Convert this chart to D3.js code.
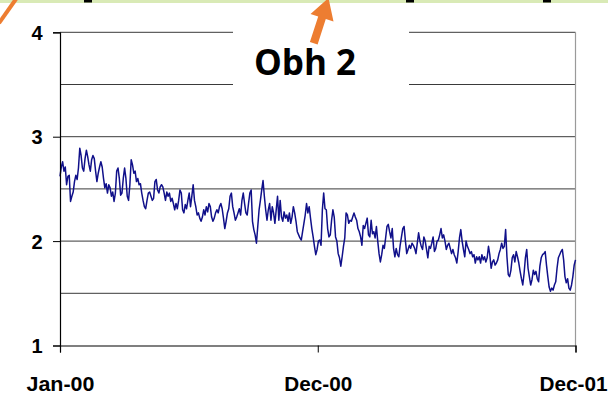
<!DOCTYPE html>
<html>
<head>
<meta charset="utf-8">
<script src="https://cdn.jsdelivr.net/npm/d3@7"></script>
<style>
  html, body { margin: 0; padding: 0; background: #fff; overflow: hidden; }
  svg { display: block; }
</style>
</head>
<body>
<div id="chart"></div>
<script>
// ---------------- data ----------------
const startDate = new Date(2000, 0, 1);
const endDate = new Date(2001, 11, 1);
const tickDates = [new Date(2000, 0, 1), new Date(2000, 11, 16), new Date(2001, 11, 1)];
const tickLabels = ["Jan-00", "Dec-00", "Dec-01"];
const yTicks = [1, 2, 3, 4];
const yGrid = [1.5, 2, 2.5, 3, 3.5, 4];
const yDomain = [1, 4];
const calloutText = "Obh 2";

// series values (evenly spaced over the period)
const seg1 = [2.62,2.71,2.76,2.67,2.71,2.54,2.62,2.63,2.38,2.43,2.47,2.57,2.63,2.59,2.70,2.89,2.82,2.70,2.67,2.79,
  2.87,2.81,2.73,2.67,2.78,2.82,2.79,2.67,2.57,2.65,2.71,2.76,2.71,2.60,2.51,2.55,2.46,2.54,2.51,2.43,
  2.47,2.38,2.46,2.67,2.70,2.60,2.44,2.46,2.60,2.70,2.60,2.43,2.39,2.54,2.78,2.73,2.65,2.67,2.57,2.60,
  2.54,2.55,2.46,2.39,2.33,2.31,2.39,2.46,2.47,2.43,2.39,2.41,2.57,2.59,2.49,2.46,2.52,2.54,2.52];
const seg2 = [2.46,2.39,2.47,2.43,2.46,2.38,2.41,2.36,2.30,2.36,2.31,2.39,2.49,2.46,2.30,2.27,2.35,2.31,2.39,2.46,
  2.33,2.43,2.54,2.39,2.33,2.25,2.27,2.22,2.19,2.23,2.30,2.25,2.33,2.28,2.36,2.33,2.23,2.19,2.22,2.27,
  2.30,2.27,2.33,2.36,2.31,2.22,2.12,2.19,2.27,2.31,2.43,2.46,2.33,2.27,2.20,2.23,2.27,2.31,2.25,2.39,
  2.46,2.36,2.27,2.25,2.36,2.46,2.49,2.19,2.11,2.06,1.98,2.14,2.30,2.39,2.49,2.58,2.43,2.30,2.20];
const seg3 = [2.30,2.36,2.20,2.33,2.27,2.17,2.30,2.43,2.20,2.39,2.23,2.19,2.28,2.22,2.25,2.19,2.27,2.17,2.23,2.33,
  2.27,2.19,2.09,2.06,2.03,2.01,2.09,2.17,2.25,2.36,2.27,2.33,2.22,2.12,2.04,1.95,1.87,1.92,2.00,2.01,
  1.96,2.30,2.46,2.31,2.30,2.12,2.04,2.06,2.20,2.30,2.23,2.04,2.00,1.88,1.84,1.76,1.85,1.95,2.03,2.27,
  2.25,2.17,2.20,2.19,2.23,2.27,2.23,2.20,2.12,2.09,2.04,1.96,2.15,2.12,2.17,2.22,2.06,2.04,2.20,2.07];
const seg4 = [2.09,2.03,2.14,2.00,1.88,1.80,1.87,1.96,1.93,2.03,2.14,2.16,2.09,2.03,2.12,1.93,1.85,1.93,1.87,1.85,
  1.96,2.04,2.12,2.14,2.00,1.88,1.92,1.96,1.93,1.98,1.96,1.93,1.88,1.98,2.08,2.00,1.95,1.92,2.04,2.00,
  1.92,1.84,1.95,1.93,1.98,2.04,1.90,1.93,2.00,2.01,2.06,2.12,2.03,2.06,2.00,1.92,1.96,1.98,1.93,1.88,
  1.92,1.87,1.84,1.79,1.90,2.03,2.11,2.00,1.92,1.85,2.00,1.95,1.92,1.88,1.90,1.85,1.87,1.79,1.85,1.82];
const seg5 = [1.85,1.79,1.87,1.82,1.85,1.80,1.84,1.95,1.87,1.74,1.80,1.82,1.77,1.79,1.82,1.88,1.92,1.98,1.93,1.95,
  2.11,1.85,1.68,1.66,1.72,1.84,1.87,1.80,1.90,1.85,1.79,1.71,1.64,1.58,1.69,1.84,1.92,1.74,1.66,1.58,
  1.63,1.72,1.68,1.71,1.64,1.61,1.76,1.84,1.87,1.88,1.90,1.77,1.66,1.56,1.52,1.55,1.53,1.58,1.61,1.74,
  1.84,1.87,1.90,1.92,1.82,1.66,1.60,1.64,1.55,1.53,1.58,1.66,1.77,1.82];
const values = [].concat(seg1, seg2, seg3, seg4, seg5);

// ---------------- layout ----------------
const W = 608, H = 396;
const plot = { left: 60, right: 575.5, top: 32.3, bottom: 345.5 };

const svg = d3.select("#chart").append("svg")
  .attr("width", W).attr("height", H);

const x = d3.scaleTime().domain([startDate, endDate]).range([plot.left, plot.right]);
const y = d3.scaleLinear().domain(yDomain).range([plot.bottom, plot.top]);

const totalMs = endDate - startDate;
const points = values.map((v, i) => ({
  date: new Date(+startDate + totalMs * i / (values.length - 1)),
  value: v
}));

// gridlines
svg.append("g").selectAll("line").data(yGrid).join("line")
  .attr("x1", plot.left).attr("x2", plot.right)
  .attr("y1", d => y(d)).attr("y2", d => y(d))
  .attr("stroke", "#3a3a3a").attr("stroke-width", 1);

// right border
svg.append("line")
  .attr("x1", plot.right).attr("x2", plot.right)
  .attr("y1", plot.top).attr("y2", plot.bottom)
  .attr("stroke", "#9a9a9a").attr("stroke-width", 1.2);

// series line
svg.append("path").datum(points)
  .attr("fill", "none")
  .attr("stroke", "#10108a")
  .attr("stroke-width", 1.5)
  .attr("stroke-linejoin", "round")
  .attr("d", d3.line().x(d => x(d.date)).y(d => y(d.value)));

// y axis
const yAxis = svg.append("g")
  .attr("transform", `translate(${plot.left},0)`)
  .call(d3.axisLeft(y).tickValues(yTicks).tickFormat(d3.format("d")).tickSize(7).tickPadding(12));
yAxis.select(".domain").attr("stroke", "#000").attr("stroke-width", 1.2);
yAxis.selectAll(".tick line").attr("stroke", "#000");
yAxis.selectAll(".tick text")
  .attr("font-family", "Liberation Sans, Arial, sans-serif")
  .attr("font-weight", "bold").attr("font-size", 20).attr("fill", "#000")
  .attr("text-anchor", "middle").attr("x", -23).attr("dy", "0.35em");

// x axis
const xAxis = svg.append("g")
  .attr("transform", `translate(0,${plot.bottom})`)
  .call(d3.axisBottom(x).tickValues(tickDates)
    .tickFormat((d, i) => tickLabels[i]).tickSize(7).tickPadding(4));
xAxis.select(".domain").attr("stroke", "#000").attr("stroke-width", 1.2);
xAxis.selectAll(".tick line").attr("stroke", "#000");
xAxis.selectAll(".tick text")
  .attr("font-family", "Liberation Sans, Arial, sans-serif")
  .attr("font-weight", "bold").attr("font-size", 21).attr("fill", "#000")
  .attr("y", 45).attr("dy", 0)
  .attr("textLength", 68).attr("lengthAdjust", "spacingAndGlyphs");
// keep the last label inside the page edge
xAxis.selectAll(".tick text").filter((d, i) => i === tickDates.length - 1)
  .attr("text-anchor", "end").attr("x", W - 1 - plot.right);

// white callout box with text
svg.append("rect")
  .attr("x", 233).attr("y", 0).attr("width", 176).attr("height", 98)
  .attr("fill", "#fff");
svg.append("text")
  .attr("x", 305).attr("y", 75)
  .attr("text-anchor", "middle")
  .attr("font-family", "Open Sans, Lato, sans-serif")
  .attr("font-weight", "bold").attr("font-size", 35).attr("fill", "#000")
  .text(calloutText);

// top green band and decorations
svg.append("rect").attr("x", 0).attr("y", 0).attr("width", W).attr("height", 3)
  .attr("fill", "#d9eab6");
[[84, 92], [406, 414], [543, 551]].forEach(([a, b]) => {
  svg.append("rect").attr("x", a).attr("y", 0).attr("width", b - a).attr("height", 2.5).attr("fill", "#000");
});
// orange arrow
svg.append("path")
  .attr("d", "M309.9,42 L317.6,44.5 L325.8,19 L333.5,21.5 L328.5,-2 L310.5,14 L318.2,16.5 Z")
  .attr("fill", "#ed7d31");
// orange slash top-left
svg.append("line")
  .attr("x1", -1).attr("y1", 23).attr("x2", 16).attr("y2", -1)
  .attr("stroke", "#ed7d31").attr("stroke-width", 4);
</script>
</body>
</html>
